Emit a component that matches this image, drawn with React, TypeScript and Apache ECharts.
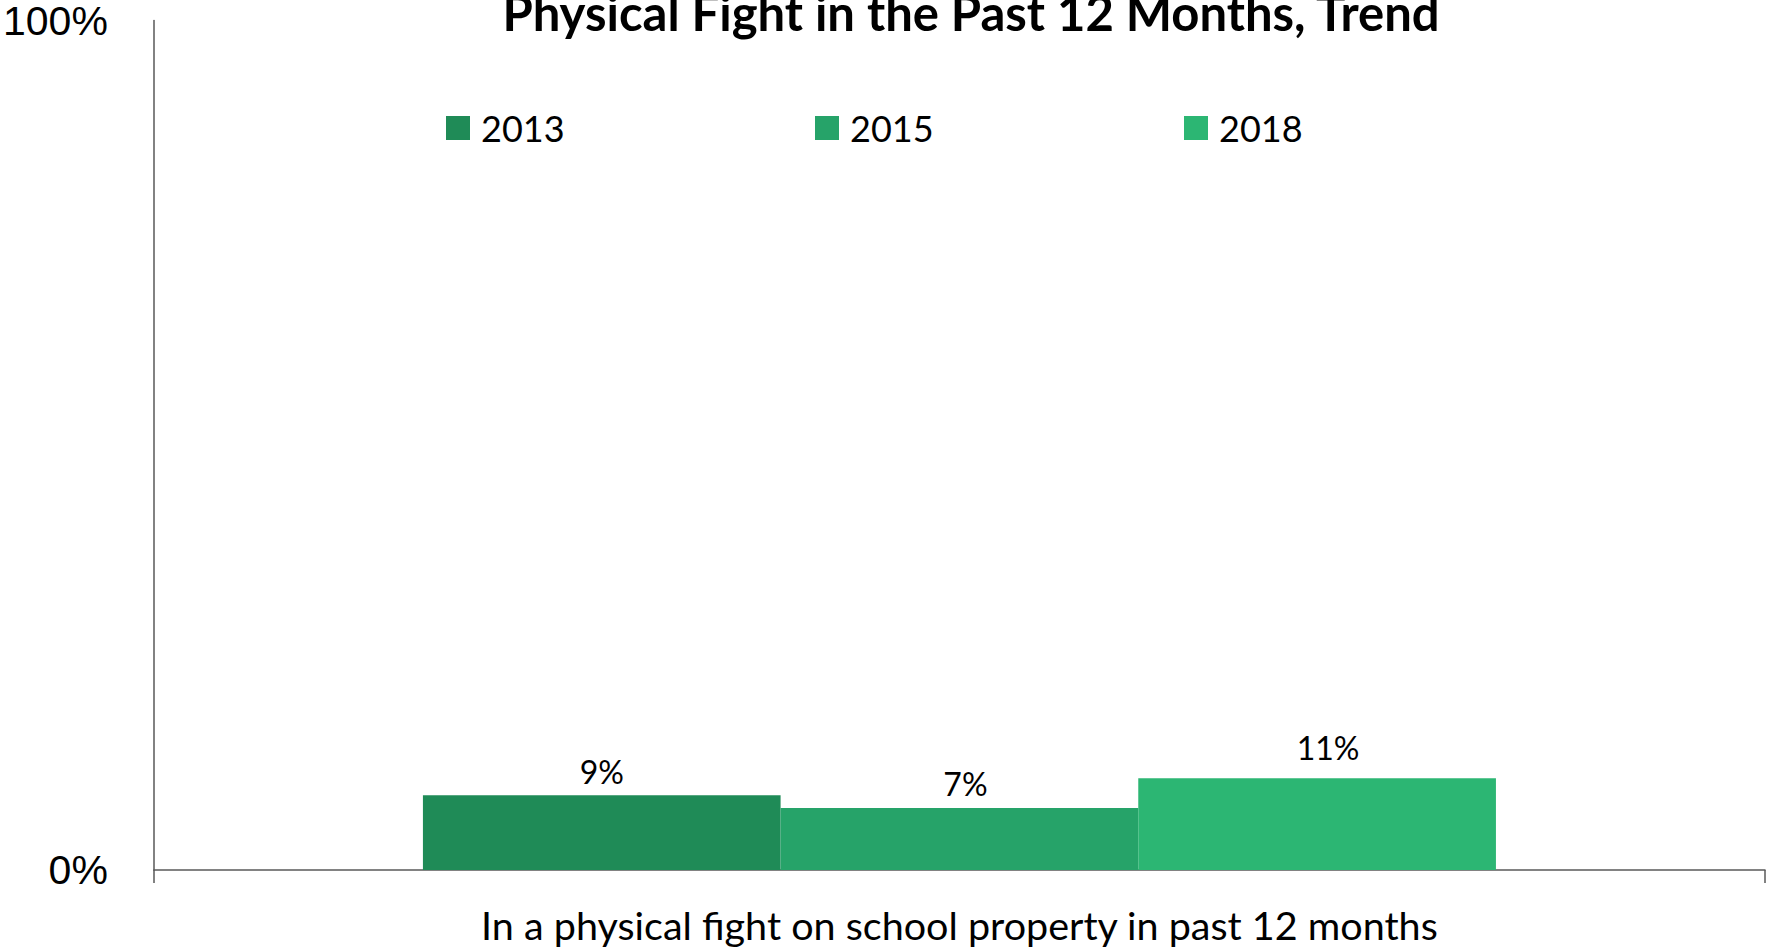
import React, { useEffect, useRef } from "react";
import * as echarts from "echarts";

const title = "Physical Fight in the Past 12 Months, Trend";
const categories = ["In a physical fight on school property in past 12 months"];
const years = ["2013", "2015", "2018"];
const values2013 = [8.8];
const values2015 = [7.3];
const values2018 = [10.8];
const colors = ["#1F8B57", "#26A369", "#2CB673"];
const yTicks = [0, 100];

const CAL = "Lato, 'Open Sans', sans-serif";

export default function App() {
  const ref = useRef<HTMLDivElement>(null);
  useEffect(() => {
    if (!ref.current) return;
    const chart = echarts.init(ref.current, null, { renderer: "svg" });
    const seriesValues = [values2013, values2015, values2018];
    const legendLefts = [446, 815, 1184];
    const labelOffsets = [[0, 0], [6, 0], [11, -7]];
    chart.setOption({
      animation: false,
      backgroundColor: "#ffffff",
      graphic: [
        {
          type: "text",
          x: 971,
          y: 12,
          style: {
            text: title,
            textAlign: "center",
            textVerticalAlign: "middle",
            fontFamily: CAL,
            fontWeight: "bold",
            fontSize: 49,
            fill: "#000000",
          },
        },
      ],
      legend: years.map((y, i) => ({
        data: [y],
        left: legendLefts[i],
        top: 110,
        padding: 0,
        itemWidth: 24,
        itemHeight: 24,
        icon: "rect",
        selectedMode: false,
        textStyle: {
          fontFamily: CAL,
          fontSize: 36,
          color: "#000000",
          lineHeight: 24,
          padding: [0, 0, 0, 6],
        },
      })),
      grid: { left: 153, right: 3, top: 20, bottom: 77, containLabel: false },
      xAxis: {
        type: "category",
        data: categories,
        axisLine: { show: true, lineStyle: { color: "#595959", width: 1.5 } },
        axisTick: { show: true, length: 13, lineStyle: { color: "#595959", width: 1.5 } },
        axisLabel: {
          fontFamily: CAL,
          fontSize: 39.5,
          color: "#000000",
          margin: 34,
        },
      },
      yAxis: {
        type: "value",
        min: yTicks[0],
        max: yTicks[1],
        interval: 100,
        axisLine: { show: true, lineStyle: { color: "#595959", width: 1.5 } },
        axisTick: { show: false },
        splitLine: { show: false },
        axisLabel: {
          formatter: "{value}%",
          fontFamily: "'Liberation Sans', Arial, sans-serif",
          fontSize: 41,
          color: "#000000",
          margin: 46,
        },
      },
      series: years.map((y, i) => ({
        name: y,
        type: "bar",
        data: seriesValues[i],
        barGap: "0%",
        barCategoryGap: "33.4%",
        itemStyle: { color: colors[i] },
        label: {
          show: true,
          position: "top",
          distance: 8,
          offset: labelOffsets[i],
          fontFamily: CAL,
          fontSize: 32,
          color: "#000000",
          formatter: (p: any) => Math.round(p.value) + "%",
        },
      })),
    });
    return () => chart.dispose();
  }, []);
  return (
    <div
      ref={ref}
      style={{ position: "fixed", left: 0, top: 0, width: 1768, height: 947 }}
    />
  );
}
